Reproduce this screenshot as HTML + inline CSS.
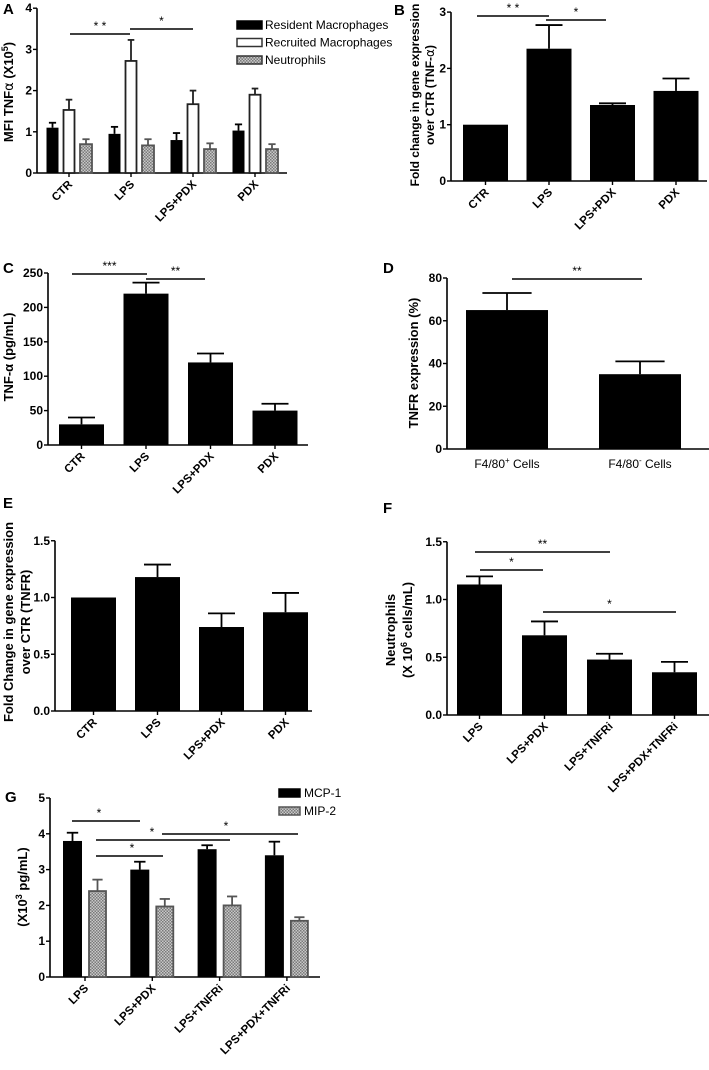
<!DOCTYPE html>
<html><head><meta charset="utf-8">
<style>
html,body{margin:0;padding:0;background:#fff;}
svg{display:block;font-family:"Liberation Sans",sans-serif;}
</style></head>
<body>
<svg id="fig" width="709" height="1070" viewBox="0 0 709 1070">
<defs>
<pattern id="hatch" width="3" height="3" patternUnits="userSpaceOnUse">
<rect width="3" height="3" fill="#c8c8c8"/>
<rect width="1.5" height="1.5" fill="#7a7a7a"/>
<rect x="1.5" y="1.5" width="1.5" height="1.5" fill="#7a7a7a"/>
</pattern>
</defs>
</svg>
<script>
// ---- data ----
const A_categories=["CTR","LPS","LPS+PDX","PDX"];
const A_resident=[1.1,0.95,0.8,1.03];
const A_residentErr=[1.22,1.12,0.97,1.18];
const A_recruited=[1.53,2.72,1.67,1.9];
const A_recruitedErr=[1.78,3.23,2.0,2.05];
const A_neutro=[0.7,0.67,0.58,0.58];
const A_neutroErr=[0.82,0.82,0.72,0.7];
const A_ticks=[0,1,2,3,4];

const B_categories=["CTR","LPS","LPS+PDX","PDX"];
const B_values=[1.0,2.35,1.35,1.6];
const B_err=[1.0,2.77,1.38,1.82];
const B_ticks=[0,1,2,3];

const C_categories=["CTR","LPS","LPS+PDX","PDX"];
const C_values=[30,220,120,50];
const C_err=[40,236,133,60];
const C_ticks=[0,50,100,150,200,250];

const D_values=[65,35];
const D_err=[73,41];
const D_ticks=[0,20,40,60,80];

const E_categories=["CTR","LPS","LPS+PDX","PDX"];
const E_values=[1.0,1.18,0.74,0.87];
const E_err=[1.0,1.29,0.86,1.04];
const E_ticks=[0,0.5,1.0,1.5];

const F_categories=["LPS","LPS+PDX","LPS+TNFRi","LPS+PDX+TNFRi"];
const F_values=[1.13,0.69,0.48,0.37];
const F_err=[1.2,0.81,0.53,0.46];
const F_ticks=[0,0.5,1.0,1.5];

const G_categories=["LPS","LPS+PDX","LPS+TNFRi","LPS+PDX+TNFRi"];
const G_mcp=[3.8,3.0,3.57,3.4];
const G_mcpErr=[4.03,3.22,3.68,3.78];
const G_mip=[2.4,1.97,2.0,1.57];
const G_mipErr=[2.72,2.18,2.25,1.67];
const G_ticks=[0,1,2,3,4,5];

// ---- helpers ----
const svg=document.getElementById('fig');
const NS='http://www.w3.org/2000/svg';
function el(tag,attrs,parent){const e=document.createElementNS(NS,tag);for(const k in attrs)e.setAttribute(k,attrs[k]);(parent||svg).appendChild(e);return e;}
function txt(s,attrs,parent){const e=el('text',attrs,parent);e.textContent=s;return e;}

function makePanel(name,ax,y0,scale,xEnd,ticks,dec){
  const g=el('g',{});
  
  
  const yTop=y0-ticks[ticks.length-1]*scale;
  const yl=el('line',{x1:ax,y1:yTop,x2:ax,y2:y0,stroke:'#000','stroke-width':1.6},g);
  
  
  const xl=el('line',{x1:ax,y1:y0,x2:xEnd,y2:y0,stroke:'#000','stroke-width':1.6},g);
  
  
  ticks.forEach(t=>{
    const y=y0-t*scale;
    el('line',{x1:ax-4,y1:y,x2:ax,y2:y,stroke:'#000','stroke-width':1.4},g);
    const tl=txt(dec?t.toFixed(1):String(t),{x:ax-5,y:y+4,'text-anchor':'end','font-size':12,'font-weight':'bold'},g);
    
    
  });
  return {g,ax,y0,scale,Y:v=>y0-v*scale};
}
function bar(p,cx,w,v,e,fill,name){
  const y=p.Y(v);
  const r=el('rect',{x:cx-w/2,y:y,width:w,height:p.y0-y,fill:fill,stroke:fill==='#000'?'#000':(fill==='#fff'?'#222':'#555'),'stroke-width':fill==='#000'?0:1.8},p.g);
  
  
  if(e>v){
    const ye=p.Y(e);const col=fill==='#fff'?'#222':(fill==='#000'?'#000':'#555');
    el('line',{x1:cx,y1:y,x2:cx,y2:ye,stroke:col,'stroke-width':1.8},p.g);
    el('line',{x1:cx-w*0.3,y1:ye,x2:cx+w*0.3,y2:ye,stroke:col,'stroke-width':1.8},p.g);
  }
}
function xlab(p,cx,s,name){
  el('line',{x1:cx,y1:p.y0,x2:cx,y2:p.y0+4,stroke:'#000','stroke-width':1.4},p.g);
  const t=txt(s,{x:cx+4,y:p.y0+12,'text-anchor':'end','font-size':11.5,'font-weight':'bold',transform:`rotate(-45 ${cx+4} ${p.y0+12})`},p.g);
  
  
}
function sig(p,x1,x2,y,stars,sx){
  el('line',{x1:x1,y1:y,x2:x2,y2:y,stroke:'#000','stroke-width':1.4},p.g);
  const t=txt(stars,{x:sx!==undefined?sx:(x1+x2)/2,y:y-4,'text-anchor':'middle','font-size':12},p.g);
  
  
}
function ylabel(lines,x,cy,size,gap){
  lines.forEach((s,i)=>{
    const xx=x+i*(gap||size+3);
    const t=txt('',{x:xx,y:cy,'text-anchor':'middle','font-size':size,'font-weight':'bold',transform:`rotate(-90 ${xx} ${cy})`});
    t.innerHTML=s;
    
    
  });
}
function plabel(s,x,y){
  const t=txt(s,{x:x,y:y,'font-size':15,'font-weight':'bold'});
  
  
}

// ---- Panel A ----
{
  const p=makePanel('panel-a',37,173,41.2,287,A_ticks,false);
  A_categories.forEach((c,i)=>{
    const cx=69+i*62;
    bar(p,cx-16.5,12,A_resident[i],A_residentErr[i],'#000','bar-resident-'+c);
    bar(p,cx,11,A_recruited[i],A_recruitedErr[i],'#fff','bar-recruited-'+c);
    bar(p,cx+17,12,A_neutro[i],A_neutroErr[i],'url(#hatch)','bar-neutrophils-'+c);
    xlab(p,cx,c);
  });
  sig(p,70,130,34,'* *');
  sig(p,130,193,29,'*');
  plabel('A',3,14);
  ylabel(['MFI TNF<tspan font-family="DejaVu Sans" font-weight="normal">α</tspan> (X10<tspan dy="-5" font-size="9">5</tspan><tspan dy="5">)</tspan>'],13,92,13);
  const items=[['Resident Macrophages','#000'],['Recruited Macrophages','#fff'],['Neutrophils','url(#hatch)']];
  items.forEach((it,i)=>{
    const y=25+i*17.5;
    const r=el('rect',{x:237,y:y-4,width:25,height:8,fill:it[1],stroke:it[1]==='#000'?'#000':'#333','stroke-width':1.5});
    
    
    const t=txt(it[0],{x:265,y:y+4,'font-size':12});
    
    
  });
}
// ---- Panel B ----
{
  const p=makePanel('panel-b',451,181,56.3,707,B_ticks,false);
  B_categories.forEach((c,i)=>{
    const cx=485.5+i*63.5;
    bar(p,cx,45,B_values[i],B_err[i],'#000','bar-'+c);
    xlab(p,cx,c);
  });
  sig(p,477,549,16,'* *');
  sig(p,546,606,20,'*');
  plabel('B',394,15);
  ylabel(['Fold change in gene expression','over CTR (TNF-<tspan font-family="DejaVu Sans" font-weight="normal">α</tspan>)'],419,95,12);
}
// ---- Panel C ----
{
  const p=makePanel('panel-c',48,445,172/250,308,C_ticks,false);
  C_categories.forEach((c,i)=>{
    const cx=81.5+i*64.5;
    bar(p,cx,45,C_values[i],C_err[i],'#000','bar-'+c);
    xlab(p,cx,c);
  });
  sig(p,72,147,274,'***');
  sig(p,146,205,279,'**');
  plabel('C',3,273);
  ylabel(['TNF-α (pg/mL)'],13,357,13);
}
// ---- Panel D ----
{
  const p=makePanel('panel-d',447,449,171/80,709,D_ticks,false);
  const labs=['F4/80<tspan dy="-5" font-size="8">+</tspan><tspan dy="5"> Cells</tspan>','F4/80<tspan dy="-5" font-size="8">-</tspan><tspan dy="5"> Cells</tspan>'];
  D_values.forEach((v,i)=>{
    const cx=507+i*133;
    bar(p,cx,82,v,D_err[i],'#000','bar-d-'+i);
    const t=txt('',{x:cx,y:468,'text-anchor':'middle','font-size':12});
    t.innerHTML=labs[i];
    
    
  });
  sig(p,512,642,279,'**');
  plabel('D',383,273);
  ylabel(['TNFR expression (%)'],418,363,13);
}
// ---- Panel E ----
{
  const p=makePanel('panel-e',55,711,113.5,312,E_ticks,true);
  E_categories.forEach((c,i)=>{
    const cx=93.5+i*64;
    bar(p,cx,45,E_values[i],E_err[i],'#000','bar-'+c);
    xlab(p,cx,c);
  });
  plabel('E',3,508);
  ylabel(['Fold Change in gene expression','over CTR (TNFR)'],13,622,13,17);
}
// ---- Panel F ----
{
  const p=makePanel('panel-f',447,715,115.5,709,F_ticks,true);
  F_categories.forEach((c,i)=>{
    const cx=479.5+i*65;
    bar(p,cx,45,F_values[i],F_err[i],'#000','bar-'+c);
    xlab(p,cx,c);
  });
  sig(p,475,610,552,'**');
  sig(p,480,543,570,'*');
  sig(p,543,676,612,'*');
  plabel('F',383,513);
  ylabel(['Neutrophils','(X 10<tspan dy="-5" font-size="9">6</tspan><tspan dy="5"> cells/mL)</tspan>'],395,630,13,17);
}
// ---- Panel G ----
{
  const p=makePanel('panel-g',50,977,35.8,320,G_ticks,false);
  G_categories.forEach((c,i)=>{
    const cx=85+i*67.3;
    bar(p,cx-12.5,19,G_mcp[i],G_mcpErr[i],'#000','bar-mcp1-'+c);
    bar(p,cx+12.5,17,G_mip[i],G_mipErr[i],'url(#hatch)','bar-mip2-'+c);
    xlab(p,cx,c);
  });
  sig(p,72,140,821,'*',99);
  sig(p,96,230,840,'*',152);
  sig(p,162,298,834,'*',226);
  sig(p,96,163,856,'*',132);
  plabel('G',5,802);
  ylabel(['(X10<tspan dy="-5" font-size="9">3</tspan><tspan dy="5"> pg/mL)</tspan>'],27,887,13);
  [['MCP-1','#000'],['MIP-2','url(#hatch)']].forEach((it,i)=>{
    const y=793+i*18;
    const r=el('rect',{x:279,y:y-4,width:21,height:8,fill:it[1],stroke:it[1]==='#000'?'#000':'#555','stroke-width':1.5});
    
    
    const t=txt(it[0],{x:304,y:y+4,'font-size':12});
    
    
  });
}
</script>
</body></html>
